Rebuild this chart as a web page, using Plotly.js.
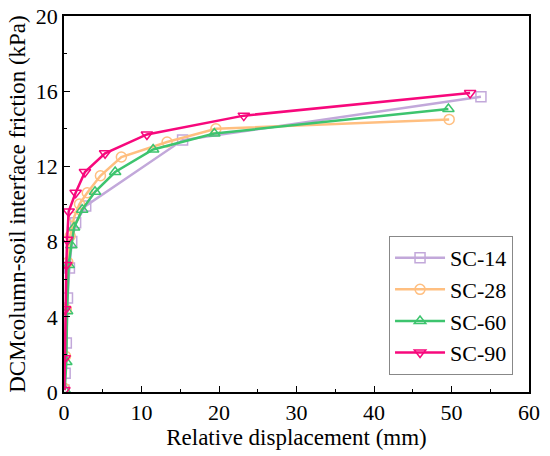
<!DOCTYPE html>
<html><head><meta charset="utf-8">
<script src="https://cdn.plot.ly/plotly-3.0.1.min.js"></script>
<style>body{margin:0;padding:0;}#c{width:550px;height:456px;}</style>
</head><body><div id="c"></div>
<script>
var sc14_x = [0, 0.15, 0.3, 0.45, 0.7, 1.0, 1.5, 2.8, 15.3, 53.8];
var sc14_y = [0.1, 1.0, 2.6, 5.0, 6.6, 8.0, 9.0, 9.9, 13.4, 15.7];
var sc28_x = [0.05, 0.2, 0.3, 0.5, 0.8, 1.3, 2.0, 3.0, 4.7, 7.4, 13.3, 19.6, 49.7];
var sc28_y = [0.2, 1.9, 4.4, 6.9, 8.3, 9.3, 10.0, 10.6, 11.5, 12.5, 13.3, 14.0, 14.5];
var sc60_x = [0.1, 0.3, 0.4, 0.6, 0.95, 1.3, 2.35, 4.0, 6.6, 11.5, 19.4, 49.6];
var sc60_y = [0.1, 1.6, 4.3, 6.75, 7.8, 8.75, 9.7, 10.65, 11.7, 12.9, 13.75, 15.05];
var sc90_x = [0.05, 0.1, 0.15, 0.3, 0.4, 0.6, 1.5, 2.7, 5.3, 10.7, 23.2, 52.4];
var sc90_y = [0.1, 1.8, 4.4, 6.75, 8.1, 9.6, 10.6, 11.7, 12.7, 13.7, 14.7, 15.9];

var names = ['SC-14', 'SC-28', 'SC-60', 'SC-90'];
var colors = ['#c2a8da', '#ffbf80', '#3dc46e', '#f7087c'];
var symbols = ['square-open', 'circle-open', 'triangle-up-open', 'triangle-down-open'];
var xs = [sc14_x, sc28_x, sc60_x, sc90_x];
var ys = [sc14_y, sc28_y, sc60_y, sc90_y];

var traces = names.map(function(n, i) {
  return {
    x: xs[i], y: ys[i], name: n, type: 'scatter', mode: 'lines+markers',
    line: {color: colors[i], width: 2.5},
    marker: {symbol: symbols[i], size: 10, color: colors[i], line: {color: colors[i], width: 1.5}}
  };
});

function F(s) { return {family: 'Times New Roman, Liberation Serif, serif', size: s, color: '#000000'}; }
var layout = {
  width: 550, height: 456,
  margin: {l: 64, r: 21, t: 16, b: 64},
  paper_bgcolor: '#ffffff', plot_bgcolor: '#ffffff',
  font: F(22),
  showlegend: true,
  legend: {x: 0.699, y: 0.415, xanchor: 'left', yanchor: 'top', bgcolor: '#ffffff',
           bordercolor: '#888888', borderwidth: 1, font: F(22), tracegroupgap: 0, itemwidth: 50},
  xaxis: {
    range: [0, 60], dtick: 10, tick0: 0, ticks: 'inside', ticklen: 6, tickcolor: '#000', tickwidth: 1.2,
    showline: true, linecolor: '#000', linewidth: 1.5, mirror: true, showgrid: false, zeroline: false,
    minor: {dtick: 5, ticks: 'inside', ticklen: 3, tickcolor: '#000'},
    title: {text: 'Relative displacement (mm)', font: F(23), standoff: 2},
    tickfont: F(22)
  },
  yaxis: {
    range: [0, 20], dtick: 4, tick0: 0, ticks: 'inside', ticklen: 6, tickcolor: '#000', tickwidth: 1.2,
    showline: true, linecolor: '#000', linewidth: 1.5, mirror: true, showgrid: false, zeroline: false,
    minor: {dtick: 2, ticks: 'inside', ticklen: 3, tickcolor: '#000'},
    title: {text: 'DCMcolumn-soil interface friction (kPa)', font: F(23), standoff: 4},
    tickfont: F(22)
  }
};
Plotly.newPlot('c', traces, layout, {displayModeBar: false});
</script></body></html>
